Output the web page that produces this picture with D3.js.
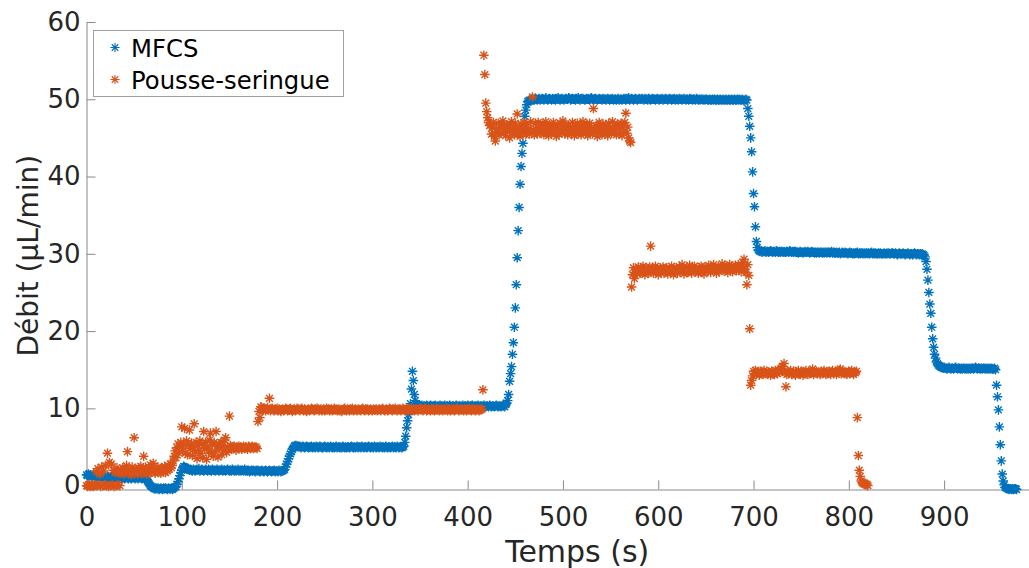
<!DOCTYPE html>
<html>
<head>
<meta charset="utf-8">
<script src="https://cdn.jsdelivr.net/npm/d3@7"></script>
<style>
  html, body { margin: 0; padding: 0; background: #fff; }
  svg { display: block; }
  text { font-family: "DejaVu Sans", sans-serif; }
</style>
</head>
<body>
<svg id="chart" width="1029" height="568"></svg>
<script>
// ---- Data ----
const seriesNames = ["MFCS", "Pousse-seringue"];
const sampleStep = 1; // seconds between samples, both series start at t = 0

const mfcsValues = [
  1.4,1.3,1.5,1.3,1.4,1.2,1.3,1.4,1.2,1.1,
  1.3,1.2,1.1,1.2,1.0,1.2,1.1,1.3,1.2,1.0,
  1.1,1.0,1.2,1.1,0.9,1.1,1.0,1.2,1.1,1.0,
  1.2,1.0,0.9,1.1,1.0,1.2,1.1,0.9,1.0,1.1,
  0.9,1.0,1.1,1.0,0.9,1.1,1.0,0.9,1.1,1.0,
  1.1,0.9,1.0,1.1,0.9,1.0,1.1,1.0,0.9,1.0,
  1.0,0.9,
  0.9,0.8,0.6,0.4,0.2,0.0,-0.1,-0.2,-0.3,-0.4,-0.4,-0.3,
  -0.4,-0.3,-0.5,-0.4,-0.3,-0.4,-0.5,-0.3,-0.4,-0.3,-0.4,-0.5,-0.3,-0.4,-0.4,-0.3,-0.5,-0.4,-0.3,-0.2,
  -0.1,0.2,0.5,0.9,1.3,1.7,2.0,2.3,2.5,2.4,2.3,2.2,
  2.1,2.2,2.0,2.1,2.0,1.9,2.1,2.0,1.9,2.0,
  2.1,2.0,2.2,1.9,2.0,2.1,2.0,1.9,2.0,2.1,
  2.0,1.9,2.1,2.0,2.0,1.9,2.1,2.0,2.0,1.9,
  2.0,2.1,2.0,1.9,2.0,2.0,2.1,1.9,2.0,2.0,
  1.9,2.0,2.1,2.0,1.9,2.0,1.9,2.1,2.0,1.9,
  2.0,1.9,2.0,2.1,1.9,2.0,1.9,2.0,2.0,1.9,
  2.1,1.9,2.0,1.9,2.0,1.8,1.9,2.0,1.9,2.0,
  1.9,1.8,2.0,1.9,2.0,1.9,1.8,1.9,2.0,1.9,
  1.8,1.9,2.0,1.9,1.8,1.9,2.0,1.9,1.8,1.9,
  1.9,2.0,1.8,1.9,1.9,1.8,2.0,1.9,1.8,1.9,
  1.9,2.0,
  2.1,2.4,2.8,3.1,3.5,3.8,4.1,4.4,4.7,4.9,5.1,5.2,5.2,5.1,
  5.1,5.0,5.1,4.9,5.0,5.1,5.0,4.9,5.0,5.1,
  5.0,4.9,5.0,5.0,5.1,4.9,5.0,5.0,4.9,5.1,
  5.0,4.9,5.0,5.1,5.0,4.9,4.9,5.0,5.1,5.0,
  4.9,5.0,5.0,4.9,5.1,5.0,4.9,5.0,4.9,5.0,
  5.1,4.9,5.0,5.0,4.9,5.0,4.9,5.1,5.0,4.9,
  5.0,4.9,5.0,5.0,4.9,5.0,5.1,5.0,4.9,5.0,
  4.9,5.0,5.1,4.9,5.0,5.0,4.9,5.1,5.0,4.9,
  5.0,5.0,4.9,5.0,5.1,5.0,4.9,5.0,5.0,4.9,
  5.1,5.0,4.9,5.0,5.0,4.9,5.1,5.0,5.0,4.9,
  5.0,4.9,5.1,5.0,4.9,5.0,5.0,4.9,5.0,5.1,
  4.9,5.0,5.0,4.9,5.1,5.0,4.9,5.0,5.0,4.9,
  5.0,5.1,
  5.6,6.4,7.5,8.4,9.2,9.9,10.6,12.5,14.8,13.6,11.8,11.0,10.6,10.5,
  10.4,10.3,10.2,10.3,10.4,10.2,10.3,10.3,10.2,10.4,
  10.3,10.2,10.3,10.4,10.3,10.2,10.3,10.3,10.4,10.2,
  10.3,10.2,10.3,10.4,10.3,10.3,10.2,10.3,10.4,10.2,
  10.3,10.3,10.2,10.4,10.3,10.2,10.3,10.3,10.2,10.3,
  10.4,10.3,10.2,10.3,10.3,10.2,10.3,10.4,10.2,10.3,
  10.3,10.2,10.4,10.3,10.2,10.3,10.3,10.4,10.2,10.3,
  10.2,10.3,10.3,10.4,10.2,10.3,10.3,10.2,10.3,10.4,
  10.3,10.2,10.3,10.3,10.2,10.4,10.3,10.2,10.3,10.3,
  10.2,10.3,10.4,10.3,10.2,10.3,10.3,10.2,10.3,10.4,
  10.3,10.2,
  10.5,10.7,11.0,11.8,13.5,14.5,15.4,17.0,18.5,20.5,23.0,26.0,29.5,33.0,36.0,39.0,41.3,43.0,44.3,46.0,47.8,48.6,49.3,49.7,
  49.8,49.9,49.8,50.0,49.9,50.0,49.9,50.1,50.0,49.9,
  50.0,50.1,49.9,50.0,50.1,50.0,49.9,50.0,50.2,50.0,
  49.9,50.0,50.1,50.0,49.9,50.1,50.0,50.0,49.9,50.1,
  50.0,50.2,50.0,49.9,50.0,50.1,50.0,49.9,50.0,50.1,
  50.0,50.0,50.2,50.1,49.9,50.0,50.1,50.0,50.0,49.9,
  50.1,50.0,50.2,50.0,49.9,50.1,50.0,50.1,50.0,49.9,
  50.0,50.1,50.0,50.0,49.9,50.1,50.2,50.0,49.9,50.0,
  50.1,50.0,49.9,50.0,50.1,50.0,50.0,49.9,50.1,50.0,
  50.0,49.9,50.0,50.1,50.0,49.9,50.0,50.0,50.1,49.9,
  50.0,50.0,49.9,50.0,50.1,49.9,50.0,50.0,49.9,50.0,
  50.1,50.0,49.9,50.1,50.0,50.2,49.9,50.0,50.1,50.0,
  49.9,50.0,50.1,50.0,49.9,50.0,50.1,50.0,50.0,50.1,
  50.0,49.9,50.1,50.0,50.0,49.9,50.1,50.0,49.9,50.0,
  50.1,50.0,50.0,49.9,50.0,50.1,50.0,49.9,50.0,50.0,
  50.1,49.9,50.0,50.0,50.1,50.0,49.9,50.0,50.1,50.0,
  49.9,50.0,50.0,50.1,49.9,50.0,50.0,49.9,50.1,50.0,
  50.0,49.9,50.0,50.1,50.0,49.9,50.0,50.0,49.9,50.1,
  50.0,50.0,49.9,50.0,50.0,49.9,50.1,50.0,49.9,50.0,
  49.9,50.0,50.0,49.9,50.0,49.9,50.0,50.0,49.9,49.9,
  50.0,49.9,49.9,50.0,49.9,50.0,49.9,49.9,50.0,49.9,
  49.9,50.0,49.9,49.9,50.0,49.9,49.9,50.0,49.9,49.9,
  50.0,49.9,49.9,50.0,49.9,49.9,50.0,49.9,49.9,50.0,
  49.9,50.0,49.9,49.9,50.0,49.9,49.8,49.9,50.0,49.9,
  48.8,47.8,46.5,45.0,43.2,40.6,37.8,36.1,33.5,31.6,30.8,30.5,
  30.4,30.3,30.4,30.2,30.3,30.3,30.4,30.2,30.3,30.3,
  30.2,30.3,30.4,30.3,30.2,30.3,30.3,30.2,30.4,30.3,
  30.2,30.3,30.2,30.3,30.3,30.2,30.3,30.2,30.2,30.3,
  30.3,30.2,30.4,30.3,30.2,30.3,30.2,30.3,30.3,30.2,
  30.2,30.1,30.2,30.3,30.2,30.2,30.1,30.2,30.3,30.2,
  30.2,30.3,30.2,30.1,30.2,30.3,30.2,30.2,30.1,30.2,
  30.1,30.2,30.2,30.1,30.2,30.2,30.1,30.2,30.1,30.2,
  30.2,30.1,30.2,30.2,30.1,30.2,30.3,30.1,30.2,30.1,
  30.1,30.2,30.1,30.1,30.2,30.0,30.1,30.2,30.1,30.1,
  30.2,30.1,30.1,30.0,30.1,30.2,30.1,30.1,30.0,30.1,
  30.0,30.1,30.1,30.2,30.0,30.1,30.0,30.1,30.1,30.0,
  30.1,30.0,30.1,30.1,30.0,30.1,30.0,30.1,30.2,30.0,
  30.1,30.0,30.1,30.0,30.0,30.1,30.0,30.1,30.0,30.0,
  30.0,30.1,30.0,30.0,30.1,30.0,30.1,30.0,30.0,30.1,
  30.1,30.0,30.0,30.1,30.0,29.9,30.0,30.1,30.0,30.0,
  30.0,30.1,30.0,29.9,30.0,30.0,30.1,30.0,29.9,30.0,
  30.0,29.9,30.0,30.1,30.0,29.9,30.0,30.0,29.9,30.0,
  29.9,30.0,29.9,29.8,29.6,
  29.0,28.0,26.6,25.0,23.5,22.3,20.5,19.0,17.9,17.0,16.5,16.0,15.8,15.6,15.5,15.4,15.3,
  15.3,15.2,15.3,15.2,15.2,15.1,15.2,15.3,15.2,15.1,
  15.2,15.2,15.1,15.2,15.3,15.2,15.1,15.2,15.2,15.1,
  15.2,15.1,15.2,15.2,15.1,15.2,15.1,15.2,15.1,15.2,
  15.1,15.2,15.2,15.1,15.2,15.3,15.2,15.1,15.2,15.2,
  15.1,15.2,15.1,15.2,15.2,15.1,15.2,15.1,15.2,15.1,
  15.2,15.1,15.2,15.1,15.1,15.2,15.0,
  13.0,11.5,9.8,7.6,5.3,3.2,1.5,0.6,0.1,-0.2,-0.3,-0.4,-0.4,-0.5,-0.4,-0.4,-0.5,-0.4,-0.5,-0.4,-0.4,-0.5
];

const psValues = [
  0.0,-0.1,0.1,0.0,-0.1,0.1,0.0,-0.1,0.0,0.1,
  1.8,0.0,2.2,0.1,1.5,-0.1,2.4,0.0,1.9,0.1,
  2.6,0.0,4.2,-0.1,3.0,0.0,2.8,0.1,2.0,-0.1,
  1.7,0.0,2.3,0.1,1.6,0.0,
  2.0,1.7,2.3,1.5,2.1,1.9,2.6,4.4,1.9,1.6,
  2.1,1.4,2.4,1.8,6.2,2.2,1.7,2.0,1.5,2.3,
  1.8,2.5,1.6,2.0,3.8,1.8,2.4,1.5,2.1,1.6,
  2.0,2.7,1.7,2.2,2.9,1.8,1.6,2.2,1.9,2.4,
  1.7,2.0,1.6,2.3,2.1,1.8,2.5,1.7,2.2,1.9,
  2.6,2.1,2.8,2.3,
  2.6,3.2,3.8,4.5,3.6,4.9,5.4,4.2,5.0,5.6,
  7.6,4.6,5.3,7.4,4.2,5.8,4.0,5.2,7.2,4.8,
  5.5,3.9,5.0,8.0,4.4,5.6,3.5,5.2,4.6,5.8,
  4.2,5.4,3.6,7.0,4.8,5.6,3.4,5.0,4.5,5.9,
  6.8,4.2,5.3,3.8,5.6,4.4,7.0,5.1,3.7,5.4,
  4.8,5.6,4.0,5.2,4.6,5.9,6.2,4.3,5.0,4.6,
  9.0,5.2,
  4.7,5.0,4.8,5.1,4.9,4.6,5.0,4.8,5.1,4.9,
  5.0,4.7,4.9,5.1,4.8,5.0,4.9,4.7,5.1,5.0,
  4.8,4.9,5.1,4.8,5.0,4.9,5.0,4.8,
  8.3,9.6,8.8,10.2,
  10.1,9.9,9.8,10.0,9.7,9.9,10.1,9.8,11.3,9.7,
  9.9,10.0,9.8,9.7,9.9,9.8,10.0,9.7,9.9,9.8,
  9.6,9.8,9.9,9.7,9.8,10.0,9.9,9.7,9.8,9.9,
  10.0,9.8,9.6,9.8,9.9,9.7,9.8,10.0,9.9,9.8,
  9.7,9.9,10.0,9.8,9.7,9.9,9.8,9.6,9.8,9.9,
  9.7,9.8,10.0,9.9,9.8,9.7,9.9,9.8,10.0,9.9,
  9.7,9.8,9.9,9.7,9.8,9.9,9.7,9.8,10.0,9.8,
  9.9,9.7,9.8,9.9,9.7,9.8,10.0,9.8,9.9,9.7,
  9.8,9.9,9.7,9.8,9.6,9.8,9.9,10.0,9.8,9.7,
  9.9,9.8,9.7,9.9,9.8,10.0,9.7,9.8,9.9,9.8,
  9.7,9.9,9.8,9.8,9.7,9.9,10.0,9.8,9.7,9.9,
  9.8,9.9,9.7,9.8,9.9,9.8,9.7,9.9,9.8,9.8,
  9.9,9.7,9.8,9.9,9.8,9.7,9.9,10.0,9.8,9.7,
  9.8,9.9,9.7,9.8,10.0,9.9,9.8,9.7,9.9,9.8,
  10.0,9.8,9.7,9.9,9.8,9.9,9.7,9.8,10.0,9.9,
  9.8,9.7,9.9,9.8,9.7,9.9,9.8,10.0,9.8,9.9,
  9.7,9.8,9.9,9.8,9.7,9.9,10.0,9.8,9.9,9.7,
  9.8,10.0,9.9,9.7,9.8,9.9,9.8,9.7,9.9,9.8,
  9.9,9.7,9.8,10.0,9.8,9.9,9.7,9.8,9.9,9.8,
  9.7,9.9,9.8,9.8,10.0,9.7,9.9,9.8,9.7,9.9,
  9.8,9.9,9.7,9.8,9.9,10.0,9.8,9.7,9.9,9.8,
  9.9,9.8,9.7,9.9,9.8,9.7,9.9,9.8,10.0,9.8,
  9.7,9.9,9.8,9.9,9.7,9.8,9.9,9.8,9.7,9.9,
  9.8,9.9,
  12.4,55.7,53.2,49.5,48.4,47.6,47.0,46.6,
  46.8,45.5,46.3,47.0,45.2,44.6,46.1,45.8,46.9,45.4,
  46.4,45.6,46.8,47.2,45.9,46.5,45.3,46.7,45.8,46.2,
  45.0,46.6,47.1,45.7,46.3,45.4,46.9,46.0,48.1,45.5,
  46.4,45.2,46.8,46.1,45.6,47.0,46.3,45.4,46.7,45.9,
  46.2,45.5,47.1,45.8,50.3,46.0,45.4,46.9,46.1,45.5,
  47.0,46.3,45.6,46.6,45.9,46.8,45.4,46.2,47.1,45.7,
  46.4,45.3,46.7,46.0,45.6,46.5,47.0,45.8,46.3,45.2,
  46.6,46.1,45.5,46.9,46.0,45.7,47.2,46.4,45.5,46.8,
  46.2,45.4,46.6,45.9,46.3,45.6,47.0,46.1,45.3,46.5,
  45.8,46.9,45.5,46.2,46.7,45.4,46.0,47.1,45.9,46.4,
  45.6,46.8,45.3,46.2,46.9,45.7,46.4,45.5,48.8,46.1,
  45.8,46.6,45.2,46.3,47.0,45.6,46.2,45.4,46.8,46.0,
  45.5,46.7,46.1,45.3,46.9,45.8,46.4,45.6,47.1,46.0,
  45.7,46.5,45.4,46.8,46.2,45.5,46.6,46.9,45.3,46.3,
  45.8,47.0,48.2,45.6,46.4,45.0,44.6,44.4,
  25.7,27.3,28.2,26.8,27.6,28.0,27.4,28.3,27.8,27.5,
  28.1,27.6,28.4,27.9,27.3,28.2,27.7,28.0,27.5,28.3,
  31.0,27.7,28.2,27.5,27.9,28.4,27.6,28.0,27.3,27.9,
  28.2,27.6,27.9,28.3,27.5,28.0,27.7,28.2,27.4,27.9,
  28.1,27.6,28.4,27.8,27.3,28.0,27.7,28.2,27.5,27.9,
  28.3,27.6,28.0,28.6,27.8,27.4,28.1,27.7,28.3,27.6,
  28.0,28.5,27.8,27.5,28.2,27.9,28.4,27.7,28.1,27.8,
  27.5,28.2,27.9,28.4,27.6,28.0,27.4,28.3,27.8,28.1,
  27.7,28.5,28.0,27.6,28.3,27.9,28.6,27.8,28.2,27.5,
  28.0,28.4,27.7,28.1,27.9,28.7,28.2,27.8,28.5,27.9,
  28.3,27.6,28.1,28.6,27.9,28.4,27.7,28.2,28.0,28.5,
  27.8,28.3,28.6,27.9,28.2,27.7,28.4,28.9,29.3,28.0,
  27.6,26.0,28.6,27.2,
  20.3,
  13.0,13.6,14.2,14.8,14.5,14.9,14.4,14.7,14.6,14.3,
  14.8,14.5,14.7,14.4,14.9,14.6,14.5,14.8,14.4,14.7,
  14.6,14.3,14.8,14.5,14.7,14.4,14.9,14.6,14.5,15.0,
  14.7,14.9,15.2,15.4,14.8,15.8,14.6,12.8,14.4,14.8,
  14.5,14.7,14.9,14.4,14.6,14.8,14.5,14.3,14.7,14.6,
  14.9,14.5,14.4,14.8,14.6,14.3,14.7,14.5,14.9,14.6,
  14.4,14.8,14.5,14.7,14.6,15.1,14.4,14.7,14.6,14.8,
  14.5,14.7,14.6,14.4,14.8,14.5,14.7,14.9,14.6,14.4,
  14.7,14.5,14.8,14.6,14.4,14.7,14.9,14.5,14.6,14.8,
  14.4,14.7,14.6,14.9,15.1,14.5,14.7,14.6,14.8,14.5,
  14.7,14.4,14.6,14.8,14.5,14.7,14.9,14.6,14.4,14.7,
  14.6,14.8,
  8.8,3.9,2.0,1.2,0.6,0.4,0.3,0.2,0.3,0.1,0.2,0.0
];

const xTickValues = [0,100,200,300,400,500,600,700,800,900];
const yTickValues = [0,10,20,30,40,50,60];
const xLabel = "Temps (s)";
const yLabel = "Débit (µL/min)";

// ---- Layout ----
const colors = ["#0072BD", "#D95319"];
const svg = d3.select("#chart");
const x = d3.scaleLinear().domain([0, 1030]).range([86.5, 1068]);
const y = d3.scaleLinear().domain([-0.5, 60]).range([489.5, 22]);

const toPoints = vals => vals.map((v, i) => ({ t: i * sampleStep, v }));
const series = [toPoints(mfcsValues), toPoints(psValues)];

function star(r) {
  const d = r * 0.7071;
  return `M${-r},0H${r}M0,${-r}V${r}M${-d},${-d}L${d},${d}M${-d},${d}L${d},${-d}`;
}

// axes
const axisColor = "#8a8a8a";
const xAxis = d3.axisBottom(x).tickValues(xTickValues).tickSizeInner(-9).tickSizeOuter(0).tickPadding(18);
const yAxis = d3.axisLeft(y).tickValues(yTickValues).tickSizeInner(-9).tickSizeOuter(0).tickPadding(6);

const gx = svg.append("g").attr("transform", `translate(0,${y(-0.5)})`).call(xAxis);
const gy = svg.append("g").attr("transform", `translate(${x(0)},0)`).call(yAxis);
[gx, gy].forEach(g => {
  g.select(".domain").attr("stroke", axisColor).attr("stroke-width", 1);
  g.selectAll(".tick line").attr("stroke", axisColor).attr("stroke-width", 1);
  g.selectAll(".tick text").attr("fill", "#262626").attr("font-size", 26)
    .attr("font-family", "DejaVu Sans, sans-serif");
});

// data
series.forEach((pts, k) => {
  svg.append("g").selectAll("path").data(pts).join("path")
    .attr("transform", d => `translate(${x(d.t)},${y(d.v)})`)
    .attr("d", star(4.8))
    .attr("fill", "none")
    .attr("stroke", colors[k])
    .attr("stroke-width", 1.4);
});

// labels
svg.append("text").attr("x", (x.range()[0] + x.range()[1]) / 2).attr("y", 562)
  .attr("text-anchor", "middle").attr("font-size", 30).attr("fill", "#262626").text(xLabel);
svg.append("text").attr("transform", `translate(38,${(y.range()[0] + y.range()[1]) / 2}) rotate(-90)`)
  .attr("text-anchor", "middle").attr("font-size", 28).attr("fill", "#262626").text(yLabel);

// legend
const lg = svg.append("g");
lg.append("rect").attr("x", 93.5).attr("y", 30.5).attr("width", 250).attr("height", 66)
  .attr("fill", "#fff").attr("stroke", "#a0a0a0").attr("stroke-width", 1);
seriesNames.forEach((name, k) => {
  const cy = 47.5 + k * 32;
  lg.append("path").attr("transform", `translate(115,${cy})`).attr("d", star(4.6))
    .attr("fill", "none").attr("stroke", colors[k]).attr("stroke-width", 1.1);
  lg.append("text").attr("x", 131).attr("y", cy + 9.5).attr("font-size", 24.3)
    .attr("fill", "#000").text(name);
});
</script>
</body>
</html>
